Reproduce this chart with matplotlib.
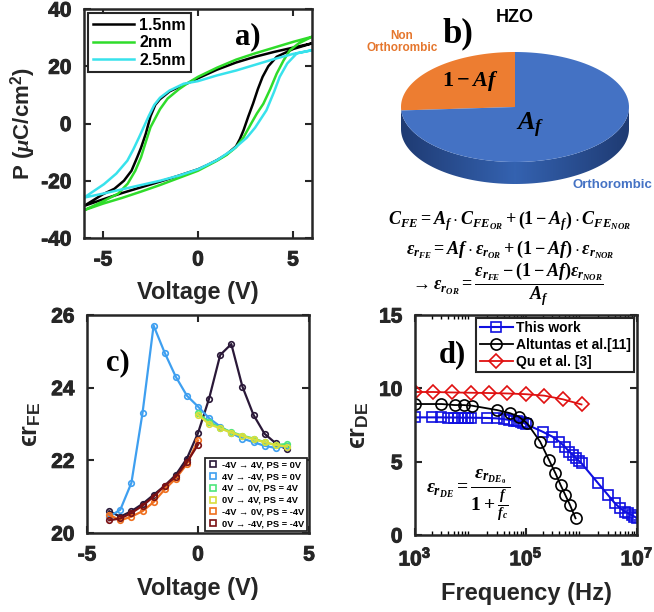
import numpy as np
import matplotlib
matplotlib.use('Agg')
import matplotlib.pyplot as plt
import matplotlib.patheffects as pe
from matplotlib.lines import Line2D
from matplotlib.patches import Polygon
from matplotlib.colors import LinearSegmentedColormap

plt.rcParams['font.family'] = ['Liberation Sans', 'DejaVu Sans']
plt.rcParams['font.weight'] = 'bold'
plt.rcParams['axes.labelweight'] = 'bold'
plt.rcParams['axes.unicode_minus'] = False
plt.rcParams['mathtext.fontset'] = 'custom'
plt.rcParams['mathtext.rm'] = 'Liberation Serif:bold'
plt.rcParams['mathtext.it'] = 'Liberation Serif:italic:bold'
plt.rcParams['mathtext.bf'] = 'Liberation Serif:bold'
plt.rcParams['mathtext.sf'] = 'Liberation Sans:bold'

# ---- a) P-V loops (upper branch +6 -> -6, lower branch -6 -> +6)
v_up_15 = [6, 5, 4, 3, 2, 1, 0, -0.5, -1, -1.5, -2, -2.25, -2.5, -2.75, -3, -3.2, -3.5, -3.9, -4.4, -5, -6]
p_up_15 = [28, 26.5, 25, 23.3, 21.3, 18.8, 15.8, 14.2, 12.8, 11.2, 8.5, 6.5, 2.5, -3.6, -8.5, -11.8, -16.5, -20, -22.8, -24.7, -28.8]
v_lo_15 = [-6, -5, -4, -3, -2, -1, 0, 0.5, 1, 1.5, 2, 2.2, 2.4, 2.65, 2.9, 3.15, 3.4, 3.7, 4.14, 5, 6]
p_lo_15 = [-28.8, -26.5, -24.3, -22.3, -20.3, -18.2, -16, -14.5, -12.8, -10.8, -8, -5.5, -2.3, 2.5, 7, 12, 16.3, 20, 23.3, 26, 28]

v_up_2 = [6, 5, 4, 3, 2, 1, 0, -0.5, -1, -1.6, -2, -2.5, -2.75, -3, -3.3, -3.7, -4.2, -5, -6]
p_up_2 = [30.3, 28.5, 26.5, 24.5, 22.3, 19.5, 16.3, 14.3, 12.0, 8.7, 5, -1.3, -6.5, -11.8, -16.5, -21, -24.5, -27.2, -30.3]
v_lo_2 = [-6, -5, -4, -3, -2, -1, 0, 1, 1.5, 2, 2.4, 2.8, 3.1, 3.44, 3.8, 4.14, 4.5, 4.84, 5.3, 6]
p_lo_2 = [-30.3, -28, -26, -23.8, -21.5, -19, -16.5, -13, -11, -8.3, -4.8, 0, 3.5, 6.9, 12, 17.4, 22, 25.6, 28, 30.3]

v_up_25 = [6, 5, 4, 3, 2, 1, 0, -0.75, -1.5, -2, -2.3, -2.6, -3.1, -3.4, -3.72, -4.3, -4.95, -6]
p_up_25 = [25.6, 24.3, 22.5, 20.5, 18.5, 16.8, 14.8, 13.9, 11.5, 9, 6.5, 2.5, -4.8, -9, -13, -17.5, -21.2, -25.9]
v_lo_25 = [-6, -5, -4, -3, -2, -1, 0, 1, 1.86, 2.56, 3, 3.6, 4.0, 4.3, 4.7, 5.2, 6]
p_lo_25 = [-25.9, -24.5, -23, -21.5, -20, -18.2, -16, -12.8, -9, -5, -1.5, 4.6, 11, 16.3, 21, 24.5, 25.6]

# ---- b) phase fractions
frac_labels = ['Non\nOrthorombic', 'Orthorombic']
frac_values = [0.26, 0.74]

# ---- c) epsilon_r FE vs voltage
vc_full = [-4, -3.5, -3, -2.5, -2, -1.5, -1, -0.5, 0, 0.5, 1, 1.5, 2, 2.5, 3, 3.5, 4]
vc_pos = [0, 0.5, 1, 1.5, 2, 2.5, 3, 3.5, 4]
vc_neg = [-4, -3.5, -3, -2.5, -2, -1.5, -1, -0.5, 0]
eps_s1 = [20.6, 20.45, 20.6, 20.8, 21.05, 21.3, 21.6, 22.05, 22.75, 23.7, 24.9, 25.2, 24.03, 23.25, 22.73, 22.47, 22.3]
eps_s2 = [20.45, 20.64, 21.38, 23.3, 25.71, 24.96, 24.3, 23.78, 23.48, 23.16, 22.93, 22.75, 22.6, 22.5, 22.4, 22.34, 22.4]
eps_s3 = [23.3, 23.05, 22.9, 22.78, 22.68, 22.6, 22.5, 22.42, 22.45]
eps_s4 = [23.25, 23.0, 22.88, 22.76, 22.67, 22.58, 22.5, 22.42, 22.38]
eps_s5 = [20.5, 20.35, 20.45, 20.6, 20.85, 21.2, 21.5, 21.9, 22.55]
eps_s6 = [20.35, 20.4, 20.55, 20.75, 21.0, 21.3, 21.55, 21.95, 22.43]
c_labels = ['-4V \u2192 4V, PS = 0V', '4V \u2192 -4V, PS = 0V', '4V \u2192 0V, PS = 4V',
            '0V \u2192 4V, PS = 4V', '-4V \u2192 0V, PS = -4V', '0V \u2192 -4V, PS = -4V']

# ---- d) epsilon_r DE vs frequency
f_this = [1e3, 2e3, 3e3, 4e3, 5e3, 6e3, 7e3, 8e3, 9e3,
          1e4, 2e4, 3e4, 4e4, 5e4, 6e4, 7e4, 8e4, 9e4,
          1e5, 2e5, 3e5, 4e5, 5e5, 6e5, 7e5, 8e5, 9e5,
          1e6, 2e6, 3e6, 4e6, 5e6, 6e6, 7e6, 8e6, 9e6, 1e7]
eps_this = [8.02, 8.02, 8.02, 8.01, 8.01, 8.01, 8.0, 8.0, 8.0,
            8.0, 7.98, 7.95, 7.9, 7.85, 7.8, 7.75, 7.7, 7.65,
            7.55, 7.04, 6.7, 6.36, 6.02, 5.68, 5.45, 5.23, 5.05,
            4.89, 3.52, 2.73, 2.16, 1.82, 1.6, 1.48, 1.36, 1.25, 1.14]
f_alt = [1e3, 3e3, 5.2e3, 7.5e3, 1.05e4, 3e4, 5.2e4, 7.4e4, 1.05e5, 1.8e5, 2.6e5, 3.4e5, 4.2e5, 5.1e5, 6.2e5, 7.8e5]
eps_alt = [8.93, 8.93, 8.86, 8.86, 8.82, 8.52, 8.3, 8.07, 7.61, 6.36, 5.11, 4.2, 3.41, 2.73, 2.05, 1.14]
f_qu = [1e3, 2.15e3, 4.64e3, 1e4, 2.15e4, 4.64e4, 1e5, 2.15e5, 4.64e5, 1e6]
eps_qu = [9.75, 9.75, 9.72, 9.7, 9.68, 9.65, 9.6, 9.5, 9.25, 8.9]

W, H = 654, 612
fig = plt.figure(figsize=(W / 100, H / 100), dpi=100)
heavy = [pe.withStroke(linewidth=0.7, foreground='#262626')]


def box(l, t, r, b):
    return [l / W, 1 - b / H, (r - l) / W, (b - t) / H]


def style(ax, xt, yt, xl=None):
    ax.set_xticks(xt)
    ax.set_xticklabels(xl if xl else [str(v) for v in xt], fontweight='bold', fontsize=15,
                       path_effects=heavy)
    ax.set_yticks(yt)
    ax.set_yticklabels([str(v) for v in yt], fontweight='bold', fontsize=15, path_effects=heavy)
    ax.tick_params(direction='in', top=True, right=True, width=1.5, length=5,
                   pad=9, colors='#262626')
    for s in ax.spines.values():
        s.set_linewidth(1.8)
        s.set_color('#262626')


eps_sym = '\u03f5'

# ---------------- a)
ax1 = fig.add_axes(box(84, 9, 312, 238))
ax1.plot(v_up_15 + v_lo_15, p_up_15 + p_lo_15, color='black', lw=1.8, label='1.5nm')
ax1.plot(v_up_2 + v_lo_2, p_up_2 + p_lo_2, color='#2fdc2a', lw=1.8, label='2nm')
ax1.plot(v_up_25 + v_lo_25, p_up_25 + p_lo_25, color='#38e2ec', lw=1.8, label='2.5nm')
ax1.set_xlim(-6, 6)
ax1.set_ylim(-40, 40)
style(ax1, [-5, 0, 5], [-40, -20, 0, 20, 40])
ax1.set_xlabel('Voltage (V)', fontsize=17, labelpad=8, color='#262626')
ax1.set_ylabel(r'P ($\mu$C/cm$^{\mathsf{2}}$)', fontsize=16, labelpad=2, color='#262626')
leg = ax1.legend(loc='upper left', fontsize=11.5, handlelength=2.6, handletextpad=0.3,
                 labelspacing=0.15, borderpad=0.3, borderaxespad=0.25, fancybox=False,
                 edgecolor='#262626', framealpha=1)
leg.get_frame().set_linewidth(1.5)
ax1.text(0.72, 0.88, 'a)', transform=ax1.transAxes, fontsize=22, family='Liberation Serif',
         fontweight='bold', ha='center', va='center')

# ---------------- b)
axb = fig.add_axes(box(330, 0, 654, 300))
axb.set_xlim(330, 654)
axb.set_ylim(300, 0)
axb.axis('off')
cx, cy, ra, rb, th = 515, 107, 114, 55, 22
t = np.linspace(np.pi, 2 * np.pi, 120)
side = np.concatenate([np.c_[cx + ra * np.cos(t), cy - rb * np.sin(t)],
                       np.c_[cx + ra * np.cos(t[::-1]), cy + th - rb * np.sin(t[::-1])]])
side_patch = Polygon(side, closed=True, facecolor='none', edgecolor='none')
axb.add_patch(side_patch)
grad = np.abs(np.linspace(-1, 1, 200))[None, :]
cmap_side = LinearSegmentedColormap.from_list('side', ['#3462b0', '#1f3b73'])
im = axb.imshow(grad, cmap=cmap_side, extent=(cx - ra, cx + ra, cy + rb + th, cy), aspect='auto')
im.set_clip_path(side_patch)
start = 90
cols = ['#ed7d31', '#4472c4']
for val, col in zip(frac_values, cols):
    ang = np.radians(np.linspace(start, start + 360 * val, 100))
    pts = np.vstack([[cx, cy], np.c_[cx + ra * np.cos(ang), cy - rb * np.sin(ang)]])
    axb.add_patch(Polygon(pts, closed=True, facecolor=col, edgecolor='none'))
    start += 360 * val
axb.text(515, 18, 'HZO', fontsize=13, ha='center', va='center')
axb.text(458, 34, 'b)', fontsize=25, family='Liberation Serif', fontweight='bold', ha='center', va='center')
axb.text(402, 42, frac_labels[0], fontsize=8.5, color='#e5762d', ha='center', va='center', linespacing=1.1)
axb.text(612, 185, frac_labels[1], fontsize=9.5, color='#4472c4', ha='center', va='center')
axb.text(470, 81, r'$1-Af$', fontsize=16, ha='center', va='center')
axb.text(530, 125, r'$A_f$', fontsize=19, ha='center', va='center')
axb.text(510, 221, r'$C_{FE}=A_f\cdot C_{FE_{OR}}+\left(1-A_f\right)\cdot C_{FE_{NOR}}$',
         fontsize=13, ha='center', va='center')
axb.text(510, 250, r'$\epsilon_{r_{FE}}=Af\cdot\epsilon_{r_{OR}}+(1-Af)\cdot\epsilon_{r_{NOR}}$',
         fontsize=13, ha='center', va='center')
axb.text(507, 284, r'$\rightarrow\epsilon_{r_{OR}}=\dfrac{\epsilon_{r_{FE}}-(1-Af)\epsilon_{r_{NOR}}}{A_f}$',
         fontsize=13, ha='center', va='center')

# ---------------- c)
ax3 = fig.add_axes(box(87, 315, 309, 533))
c_cols = ['#2a1838', '#3e9ff0', '#4de67a', '#d9de3c', '#ef6f1e', '#7b1013']
c_x = [vc_full, vc_full[::-1], vc_pos[::-1], vc_pos, vc_neg, vc_neg[::-1]]
c_y = [eps_s1, eps_s2[::-1], eps_s3[::-1], eps_s4, eps_s5, eps_s6[::-1]]
for xs, ys, col in zip(c_x, c_y, c_cols):
    ax3.plot(xs, ys, '-o', color=col, lw=1.6, ms=4, mfc='none', mew=1.2)
ax3.set_xlim(-5, 5)
ax3.set_ylim(20, 26)
style(ax3, [-5, 0, 5], [20, 22, 24, 26])
ax3.set_xlabel('Voltage (V)', fontsize=17, labelpad=9, color='#262626')
ax3.set_ylabel(eps_sym + r'r$_{\mathsf{FE}}$', fontsize=18, labelpad=6, color='#262626')
handles = [Line2D([], [], ls='none', marker='s', ms=4, mfc='none', mec=c, mew=1.2) for c in c_cols]
leg3 = ax3.legend(handles, c_labels, loc='lower right', fontsize=6.7, handlelength=1.0,
                  handletextpad=0.5, labelspacing=0.3, borderpad=0.3, borderaxespad=0.2,
                  fancybox=False, edgecolor='#262626', framealpha=1)
leg3.get_frame().set_linewidth(1.3)
ax3.text(0.14, 0.78, 'c)', transform=ax3.transAxes, fontsize=22, family='Liberation Serif',
         fontweight='bold', ha='center', va='center')

# ---------------- d)
ax4 = fig.add_axes(box(415, 315, 637, 535))
ax4.plot(f_this, eps_this, '-s', color='#1010e0', lw=1.5, ms=7, mfc='none', mew=1.2, label='This work')
ax4.plot(f_alt, eps_alt, '-o', color='black', lw=1.3, ms=8, mfc='none', mew=1.2, label='Altuntas et al.[11]')
ax4.plot(f_qu, eps_qu, '-D', color='#e01010', lw=1.3, ms=7.5, mfc='none', mew=1.2, label='Qu et al. [3]')
ax4.set_xscale('log')
ax4.set_xlim(1e3, 1e7)
ax4.set_ylim(0, 15)
style(ax4, [1e3, 1e5, 1e7], [0, 5, 10, 15],
      [r'$\mathsf{10^{3}}$', r'$\mathsf{10^{5}}$', r'$\mathsf{10^{7}}$'])
ax4.tick_params(which='minor', direction='in', top=True, width=1.0, length=3)
ax4.set_xlabel('Frequency (Hz)', fontsize=17, labelpad=9, color='#262626')
ax4.set_ylabel(eps_sym + r'r$_{\mathsf{DE}}$', fontsize=18, labelpad=6, color='#262626')
leg4 = ax4.legend(loc='upper right', fontsize=10, handlelength=2.4, handletextpad=0.2,
                  labelspacing=0.2, borderpad=0.25, borderaxespad=0.2, fancybox=False,
                  edgecolor='#262626', framealpha=1)
leg4.get_frame().set_linewidth(1.5)
ax4.text(0.17, 0.82, 'd)', transform=ax4.transAxes, fontsize=22, family='Liberation Serif',
         fontweight='bold', ha='center', va='center')
ax4.text(0.05, 0.18, r'$\epsilon_{r_{DE}}=\dfrac{\epsilon_{r_{DE_0}}}{1+\frac{f}{f_c}}$',
         transform=ax4.transAxes, fontsize=14, ha='left', va='center')

fig.savefig('out.png', dpi=100)
